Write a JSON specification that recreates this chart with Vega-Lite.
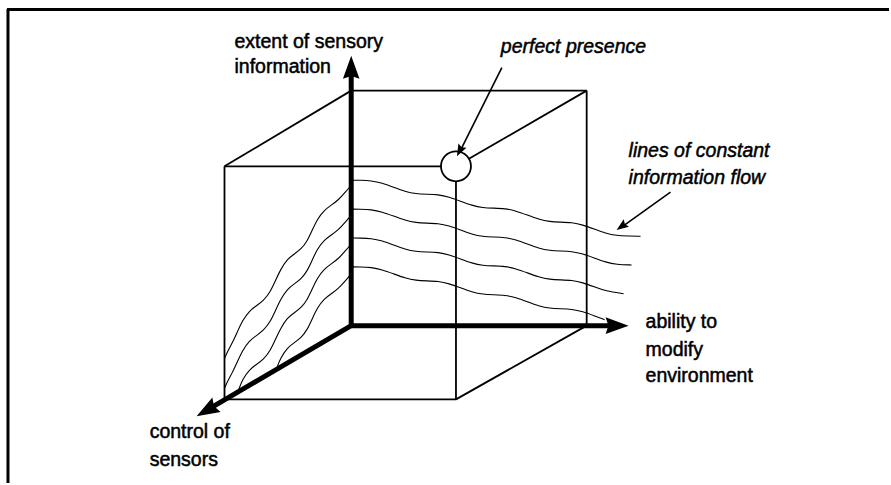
{
  "$schema": "https://vega.github.io/schema/vega-lite/v6.json",
  "width": 891,
  "height": 485,
  "autosize": {"type": "fit", "contains": "padding"},
  "padding": 0,
  "background": "white",
  "config": {"view": {"stroke": null}},
  "datasets": {
    "frame": [
      {"x": 7, "y": 9.5, "x2": 891, "y2": 9.5},
      {"x": 8, "y": 9, "x2": 8, "y2": 485}
    ],
    "cube": [
      {"x": 352, "y": 91, "x2": 588, "y2": 91},
      {"x": 225, "y": 167, "x2": 352, "y2": 91},
      {"x": 225, "y": 167, "x2": 442, "y2": 167},
      {"x": 470, "y": 159.5, "x2": 588, "y2": 91},
      {"x": 588, "y": 91, "x2": 588, "y2": 327},
      {"x": 225, "y": 167, "x2": 225, "y2": 401},
      {"x": 225, "y": 401, "x2": 457, "y2": 401},
      {"x": 457, "y": 182, "x2": 457, "y2": 401},
      {"x": 457, "y": 401, "x2": 588, "y2": 327}
    ],
    "axes": [
      {"x": 352, "y": 327, "x2": 352, "y2": 68},
      {"x": 352, "y": 327, "x2": 618, "y2": 327},
      {"x": 352, "y": 327, "x2": 207, "y2": 412}
    ],
    "pointers": [
      {"x": 503, "y": 68, "x2": 461, "y2": 152},
      {"x": 672, "y": 193, "x2": 623, "y2": 228}
    ],
    "heads": [
      {"name": "up", "x": 352, "y": 56},
      {"name": "right", "x": 630, "y": 327},
      {"name": "front", "x": 197, "y": 418},
      {"name": "pp", "x": 458, "y": 157},
      {"name": "lc", "x": 618, "y": 231}
    ],
    "circle": [{"x": 457, "y": 167}],
    "waves": [
      {"id": "h1", "i": 0, "x": 352, "y": 181},
      {"id": "h1", "i": 1, "x": 361, "y": 181},
      {"id": "h1", "i": 2, "x": 372, "y": 181.4},
      {"id": "h1", "i": 3, "x": 383, "y": 183.7},
      {"id": "h1", "i": 4, "x": 394.5, "y": 188},
      {"id": "h1", "i": 5, "x": 406, "y": 192.3},
      {"id": "h1", "i": 6, "x": 417, "y": 194.6},
      {"id": "h1", "i": 7, "x": 428, "y": 195},
      {"id": "h1", "i": 8, "x": 439, "y": 195.4},
      {"id": "h1", "i": 9, "x": 450, "y": 197.7},
      {"id": "h1", "i": 10, "x": 461.5, "y": 202},
      {"id": "h1", "i": 11, "x": 473, "y": 206.3},
      {"id": "h1", "i": 12, "x": 484, "y": 208.6},
      {"id": "h1", "i": 13, "x": 495, "y": 209},
      {"id": "h1", "i": 14, "x": 506, "y": 209.4},
      {"id": "h1", "i": 15, "x": 517, "y": 211.7},
      {"id": "h1", "i": 16, "x": 528.5, "y": 216},
      {"id": "h1", "i": 17, "x": 540, "y": 220.3},
      {"id": "h1", "i": 18, "x": 551, "y": 222.6},
      {"id": "h1", "i": 19, "x": 562, "y": 223},
      {"id": "h1", "i": 20, "x": 573, "y": 223.4},
      {"id": "h1", "i": 21, "x": 584, "y": 225.7},
      {"id": "h1", "i": 22, "x": 595.5, "y": 230},
      {"id": "h1", "i": 23, "x": 607, "y": 234.3},
      {"id": "h1", "i": 24, "x": 618, "y": 236.6},
      {"id": "h1", "i": 25, "x": 629, "y": 237},
      {"id": "h1", "i": 26, "x": 642, "y": 237.3},

      {"id": "h2", "i": 0, "x": 352, "y": 210},
      {"id": "h2", "i": 1, "x": 361, "y": 210},
      {"id": "h2", "i": 2, "x": 372, "y": 210.4},
      {"id": "h2", "i": 3, "x": 383, "y": 212.7},
      {"id": "h2", "i": 4, "x": 394.5, "y": 217},
      {"id": "h2", "i": 5, "x": 406, "y": 221.3},
      {"id": "h2", "i": 6, "x": 417, "y": 223.6},
      {"id": "h2", "i": 7, "x": 428, "y": 224},
      {"id": "h2", "i": 8, "x": 439, "y": 224.4},
      {"id": "h2", "i": 9, "x": 450, "y": 226.7},
      {"id": "h2", "i": 10, "x": 461.5, "y": 231},
      {"id": "h2", "i": 11, "x": 473, "y": 235.3},
      {"id": "h2", "i": 12, "x": 484, "y": 237.6},
      {"id": "h2", "i": 13, "x": 495, "y": 238},
      {"id": "h2", "i": 14, "x": 506, "y": 238.4},
      {"id": "h2", "i": 15, "x": 517, "y": 240.7},
      {"id": "h2", "i": 16, "x": 528.5, "y": 245},
      {"id": "h2", "i": 17, "x": 540, "y": 249.3},
      {"id": "h2", "i": 18, "x": 551, "y": 251.6},
      {"id": "h2", "i": 19, "x": 562, "y": 252},
      {"id": "h2", "i": 20, "x": 573, "y": 252.4},
      {"id": "h2", "i": 21, "x": 584, "y": 254.7},
      {"id": "h2", "i": 22, "x": 595.5, "y": 259},
      {"id": "h2", "i": 23, "x": 607, "y": 263.3},
      {"id": "h2", "i": 24, "x": 618, "y": 265.6},
      {"id": "h2", "i": 25, "x": 633, "y": 266.1},

      {"id": "h3", "i": 0, "x": 352, "y": 239},
      {"id": "h3", "i": 1, "x": 361, "y": 239},
      {"id": "h3", "i": 2, "x": 372, "y": 239.4},
      {"id": "h3", "i": 3, "x": 383, "y": 241.7},
      {"id": "h3", "i": 4, "x": 394.5, "y": 246},
      {"id": "h3", "i": 5, "x": 406, "y": 250.3},
      {"id": "h3", "i": 6, "x": 417, "y": 252.6},
      {"id": "h3", "i": 7, "x": 428, "y": 253},
      {"id": "h3", "i": 8, "x": 439, "y": 253.4},
      {"id": "h3", "i": 9, "x": 450, "y": 255.7},
      {"id": "h3", "i": 10, "x": 461.5, "y": 260},
      {"id": "h3", "i": 11, "x": 473, "y": 264.3},
      {"id": "h3", "i": 12, "x": 484, "y": 266.6},
      {"id": "h3", "i": 13, "x": 495, "y": 267},
      {"id": "h3", "i": 14, "x": 506, "y": 267.4},
      {"id": "h3", "i": 15, "x": 517, "y": 269.7},
      {"id": "h3", "i": 16, "x": 528.5, "y": 274},
      {"id": "h3", "i": 17, "x": 540, "y": 278.3},
      {"id": "h3", "i": 18, "x": 551, "y": 280.6},
      {"id": "h3", "i": 19, "x": 562, "y": 281},
      {"id": "h3", "i": 20, "x": 573, "y": 281.4},
      {"id": "h3", "i": 21, "x": 584, "y": 283.7},
      {"id": "h3", "i": 22, "x": 595.5, "y": 288},
      {"id": "h3", "i": 23, "x": 607, "y": 292.3},
      {"id": "h3", "i": 24, "x": 625, "y": 294.9},

      {"id": "h4", "i": 0, "x": 352, "y": 268},
      {"id": "h4", "i": 1, "x": 361, "y": 268},
      {"id": "h4", "i": 2, "x": 372, "y": 268.4},
      {"id": "h4", "i": 3, "x": 383, "y": 270.7},
      {"id": "h4", "i": 4, "x": 394.5, "y": 275},
      {"id": "h4", "i": 5, "x": 406, "y": 279.3},
      {"id": "h4", "i": 6, "x": 417, "y": 281.6},
      {"id": "h4", "i": 7, "x": 428, "y": 282},
      {"id": "h4", "i": 8, "x": 439, "y": 282.4},
      {"id": "h4", "i": 9, "x": 450, "y": 284.7},
      {"id": "h4", "i": 10, "x": 461.5, "y": 289},
      {"id": "h4", "i": 11, "x": 473, "y": 293.3},
      {"id": "h4", "i": 12, "x": 484, "y": 295.6},
      {"id": "h4", "i": 13, "x": 495, "y": 296},
      {"id": "h4", "i": 14, "x": 506, "y": 296.4},
      {"id": "h4", "i": 15, "x": 517, "y": 298.7},
      {"id": "h4", "i": 16, "x": 528.5, "y": 303},
      {"id": "h4", "i": 17, "x": 540, "y": 307.3},
      {"id": "h4", "i": 18, "x": 551, "y": 309.6},
      {"id": "h4", "i": 19, "x": 562, "y": 310},
      {"id": "h4", "i": 20, "x": 573, "y": 310.4},
      {"id": "h4", "i": 21, "x": 584, "y": 312.7},
      {"id": "h4", "i": 22, "x": 595.5, "y": 317},
      {"id": "h4", "i": 23, "x": 606, "y": 321},

      {"id": "d1", "i": 0, "x": 352, "y": 186},
      {"id": "d1", "i": 1, "x": 347, "y": 192},
      {"id": "d1", "i": 2, "x": 339, "y": 201},
      {"id": "d1", "i": 3, "x": 332, "y": 206},
      {"id": "d1", "i": 4, "x": 325, "y": 211},
      {"id": "d1", "i": 5, "x": 318, "y": 220},
      {"id": "d1", "i": 6, "x": 313, "y": 231},
      {"id": "d1", "i": 7, "x": 308, "y": 242},
      {"id": "d1", "i": 8, "x": 302, "y": 250},
      {"id": "d1", "i": 9, "x": 295, "y": 255},
      {"id": "d1", "i": 10, "x": 288, "y": 260},
      {"id": "d1", "i": 11, "x": 281, "y": 271},
      {"id": "d1", "i": 12, "x": 276, "y": 282},
      {"id": "d1", "i": 13, "x": 271, "y": 293},
      {"id": "d1", "i": 14, "x": 264, "y": 302},
      {"id": "d1", "i": 15, "x": 257, "y": 307},
      {"id": "d1", "i": 16, "x": 250, "y": 312},
      {"id": "d1", "i": 17, "x": 243, "y": 322},
      {"id": "d1", "i": 18, "x": 238, "y": 333},
      {"id": "d1", "i": 19, "x": 233, "y": 344},
      {"id": "d1", "i": 20, "x": 228, "y": 353},
      {"id": "d1", "i": 21, "x": 225, "y": 360},

      {"id": "d2", "i": 0, "x": 352, "y": 216},
      {"id": "d2", "i": 1, "x": 347, "y": 222},
      {"id": "d2", "i": 2, "x": 339, "y": 231},
      {"id": "d2", "i": 3, "x": 332, "y": 236},
      {"id": "d2", "i": 4, "x": 325, "y": 241},
      {"id": "d2", "i": 5, "x": 318, "y": 250},
      {"id": "d2", "i": 6, "x": 313, "y": 261},
      {"id": "d2", "i": 7, "x": 308, "y": 272},
      {"id": "d2", "i": 8, "x": 302, "y": 280},
      {"id": "d2", "i": 9, "x": 295, "y": 285},
      {"id": "d2", "i": 10, "x": 288, "y": 290},
      {"id": "d2", "i": 11, "x": 281, "y": 301},
      {"id": "d2", "i": 12, "x": 276, "y": 312},
      {"id": "d2", "i": 13, "x": 271, "y": 323},
      {"id": "d2", "i": 14, "x": 264, "y": 332},
      {"id": "d2", "i": 15, "x": 257, "y": 337},
      {"id": "d2", "i": 16, "x": 250, "y": 342},
      {"id": "d2", "i": 17, "x": 243, "y": 352},
      {"id": "d2", "i": 18, "x": 238, "y": 363},
      {"id": "d2", "i": 19, "x": 233, "y": 374},
      {"id": "d2", "i": 20, "x": 228, "y": 383},
      {"id": "d2", "i": 21, "x": 225, "y": 390},

      {"id": "d3", "i": 0, "x": 352, "y": 245},
      {"id": "d3", "i": 1, "x": 347, "y": 251},
      {"id": "d3", "i": 2, "x": 339, "y": 260},
      {"id": "d3", "i": 3, "x": 332, "y": 265},
      {"id": "d3", "i": 4, "x": 325, "y": 270},
      {"id": "d3", "i": 5, "x": 318, "y": 279},
      {"id": "d3", "i": 6, "x": 313, "y": 290},
      {"id": "d3", "i": 7, "x": 308, "y": 301},
      {"id": "d3", "i": 8, "x": 302, "y": 309},
      {"id": "d3", "i": 9, "x": 295, "y": 314},
      {"id": "d3", "i": 10, "x": 288, "y": 319},
      {"id": "d3", "i": 11, "x": 281, "y": 330},
      {"id": "d3", "i": 12, "x": 276, "y": 341},
      {"id": "d3", "i": 13, "x": 271, "y": 352},
      {"id": "d3", "i": 14, "x": 264, "y": 361},
      {"id": "d3", "i": 15, "x": 257, "y": 366},
      {"id": "d3", "i": 16, "x": 250, "y": 371},
      {"id": "d3", "i": 17, "x": 243, "y": 381},
      {"id": "d3", "i": 18, "x": 239, "y": 392},

      {"id": "d4", "i": 0, "x": 352, "y": 275},
      {"id": "d4", "i": 1, "x": 347, "y": 281},
      {"id": "d4", "i": 2, "x": 339, "y": 290},
      {"id": "d4", "i": 3, "x": 332, "y": 295},
      {"id": "d4", "i": 4, "x": 325, "y": 300},
      {"id": "d4", "i": 5, "x": 318, "y": 309},
      {"id": "d4", "i": 6, "x": 313, "y": 320},
      {"id": "d4", "i": 7, "x": 308, "y": 331},
      {"id": "d4", "i": 8, "x": 302, "y": 339},
      {"id": "d4", "i": 9, "x": 295, "y": 344},
      {"id": "d4", "i": 10, "x": 288, "y": 349},
      {"id": "d4", "i": 11, "x": 281, "y": 360},
      {"id": "d4", "i": 12, "x": 278, "y": 368}
    ],
    "labels": [
      {"text": "extent of sensory", "x": 235, "y": 48},
      {"text": "information", "x": 235, "y": 73},
      {"text": "ability to", "x": 647, "y": 329},
      {"text": "modify", "x": 647, "y": 357},
      {"text": "environment", "x": 647, "y": 384},
      {"text": "control of", "x": 150, "y": 440},
      {"text": "sensors", "x": 150, "y": 468}
    ],
    "notes": [
      {"text": "perfect presence", "x": 502, "y": 53},
      {"text": "lines of constant", "x": 630, "y": 158},
      {"text": "information flow", "x": 630, "y": 185}
    ]
  },
  "encoding": {
    "x": {"field": "x", "type": "quantitative", "scale": {"domain": [0, 891], "nice": false, "zero": false}, "axis": null},
    "y": {"field": "y", "type": "quantitative", "scale": {"domain": [0, 485], "nice": false, "zero": false, "reverse": true}, "axis": null}
  },
  "layer": [
    {
      "data": {"name": "frame"},
      "mark": {"type": "rule", "color": "black", "strokeWidth": 3},
      "encoding": {"x2": {"field": "x2"}, "y2": {"field": "y2"}}
    },
    {
      "data": {"name": "waves"},
      "mark": {"type": "line", "color": "black", "strokeWidth": 1.1, "interpolate": "basis"},
      "encoding": {"detail": {"field": "id", "type": "nominal"}, "order": {"field": "i", "type": "quantitative"}}
    },
    {
      "data": {"name": "cube"},
      "mark": {"type": "rule", "color": "black", "strokeWidth": 1.8},
      "encoding": {"x2": {"field": "x2"}, "y2": {"field": "y2"}}
    },
    {
      "data": {"name": "pointers"},
      "mark": {"type": "rule", "color": "black", "strokeWidth": 1.6},
      "encoding": {"x2": {"field": "x2"}, "y2": {"field": "y2"}}
    },
    {
      "data": {"name": "axes"},
      "mark": {"type": "rule", "color": "black", "strokeWidth": 5},
      "encoding": {"x2": {"field": "x2"}, "y2": {"field": "y2"}}
    },
    {
      "data": {"name": "circle"},
      "mark": {"type": "point", "shape": "circle", "size": 900, "filled": false, "stroke": "black", "strokeWidth": 1.8, "opacity": 1}
    },
    {
      "data": {"name": "heads"},
      "transform": [{"filter": "datum.name === 'up'"}],
      "mark": {"type": "point", "shape": "M0,0 L0.72,2 L0,1.75 L-0.72,2 Z", "size": 529, "filled": true, "color": "black", "opacity": 1, "angle": 0}
    },
    {
      "data": {"name": "heads"},
      "transform": [{"filter": "datum.name === 'right'"}],
      "mark": {"type": "point", "shape": "M0,0 L0.72,2 L0,1.75 L-0.72,2 Z", "size": 529, "filled": true, "color": "black", "opacity": 1, "angle": 90}
    },
    {
      "data": {"name": "heads"},
      "transform": [{"filter": "datum.name === 'front'"}],
      "mark": {"type": "point", "shape": "M0,0 L0.72,2 L0,1.75 L-0.72,2 Z", "size": 529, "filled": true, "color": "black", "opacity": 1, "angle": 240}
    },
    {
      "data": {"name": "heads"},
      "transform": [{"filter": "datum.name === 'pp'"}],
      "mark": {"type": "point", "shape": "M0,0 L0.75,2 L0,1.7 L-0.75,2 Z", "size": 144, "filled": true, "color": "black", "opacity": 1, "angle": 207}
    },
    {
      "data": {"name": "heads"},
      "transform": [{"filter": "datum.name === 'lc'"}],
      "mark": {"type": "point", "shape": "M0,0 L0.75,2 L0,1.7 L-0.75,2 Z", "size": 144, "filled": true, "color": "black", "opacity": 1, "angle": 234}
    },
    {
      "data": {"name": "labels"},
      "mark": {"type": "text", "align": "left", "baseline": "alphabetic", "font": "Liberation Sans", "fontSize": 19.5, "color": "black", "stroke": "black", "strokeWidth": 0.5},
      "encoding": {"text": {"field": "text"}}
    },
    {
      "data": {"name": "notes"},
      "mark": {"type": "text", "align": "left", "baseline": "alphabetic", "font": "Liberation Sans", "fontSize": 19.5, "fontStyle": "italic", "color": "black", "stroke": "black", "strokeWidth": 0.5},
      "encoding": {"text": {"field": "text"}}
    }
  ]
}
